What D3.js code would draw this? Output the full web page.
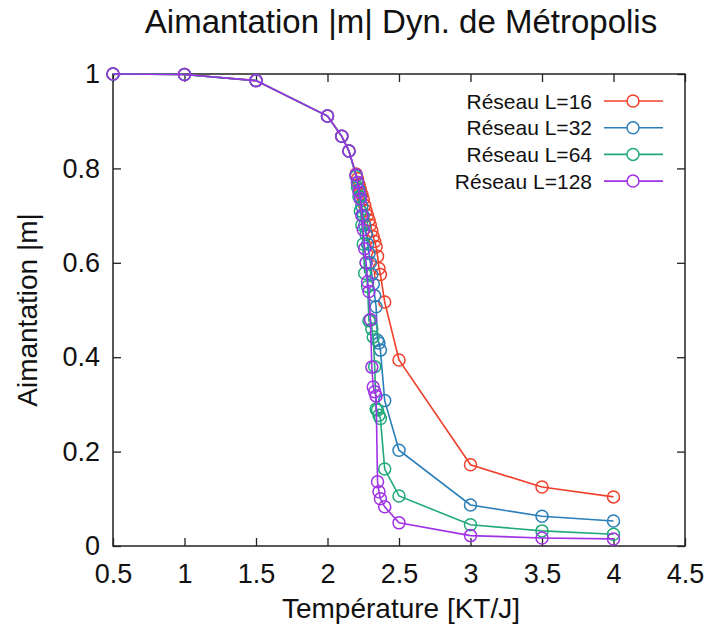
<!DOCTYPE html>
<html>
<head>
<meta charset="utf-8">
<script src="https://cdn.jsdelivr.net/npm/d3@7"></script>
<style>
  body { margin: 0; background: #fff; }
  text { font-family: "Liberation Sans", Arial, sans-serif; fill: #111; }
</style>
</head>
<body>
<div id="chart"></div>
<script>
// températures communes
const temps = [0.5, 1, 1.5, 2, 2.1, 2.15, 2.2, 2.21, 2.22, 2.23, 2.24, 2.25, 2.26, 2.27, 2.28,
  2.29, 2.3, 2.31, 2.32, 2.33, 2.34, 2.35, 2.36, 2.37, 2.4, 2.5, 3, 3.5, 4];

const mL16 = [1, 0.999, 0.986, 0.911, 0.868, 0.837, 0.788, 0.778, 0.766, 0.755, 0.745, 0.735, 0.722, 0.71, 0.70,
  0.69, 0.68, 0.668, 0.655, 0.645, 0.634, 0.614, 0.588, 0.575, 0.517, 0.394, 0.172, 0.125, 0.104];
const mL32 = [1, 0.999, 0.986, 0.911, 0.868, 0.837, 0.786, 0.77, 0.755, 0.74, 0.72, 0.70, 0.68, 0.66, 0.64,
  0.62, 0.60, 0.575, 0.555, 0.53, 0.507, 0.436, 0.43, 0.415, 0.308, 0.203, 0.087, 0.063, 0.053];
const mL64 = [1, 0.999, 0.986, 0.911, 0.868, 0.837, 0.783, 0.76, 0.74, 0.71, 0.68, 0.64, 0.578, 0.60, 0.55,
  0.477, 0.479, 0.46, 0.443, 0.38, 0.29, 0.288, 0.277, 0.27, 0.163, 0.106, 0.045, 0.032, 0.025];
const mL128 = [1, 0.999, 0.986, 0.911, 0.868, 0.837, 0.786, 0.77, 0.75, 0.735, 0.70, 0.67, 0.63, 0.60, 0.56,
  0.539, 0.48, 0.379, 0.337, 0.327, 0.318, 0.136, 0.115, 0.10, 0.083, 0.049, 0.022, 0.017, 0.015];

const seriesNames = ["Réseau L=16", "Réseau L=32", "Réseau L=64", "Réseau L=128"];
const seriesValues = [mL16, mL32, mL64, mL128];
const colors = ["#f0402c", "#2a7fb8", "#22a97b", "#a032e6"];

const xTicks = [0.5, 1, 1.5, 2, 2.5, 3, 3.5, 4, 4.5];
const yTicks = [0, 0.2, 0.4, 0.6, 0.8, 1];

const width = 713, height = 633;
const plotLeft = 113, plotRight = 685, plotTop = 74, plotBottom = 546;

const svg = d3.select("#chart").append("svg")
  .attr("width", width)
  .attr("height", height);

const x = d3.scaleLinear().domain([0.5, 4.5]).range([plotLeft, plotRight]);
const y = d3.scaleLinear().domain([0, 1]).range([plotBottom, plotTop]);

// titre
svg.append("text")
  .attr("x", 401).attr("y", 33)
  .attr("text-anchor", "middle")
  .style("font-size", "33px")
  .text("Aimantation |m| Dyn. de Métropolis");

// graduations (vers l'intérieur, en miroir)
const tickLen = 8;
const axisColor = "#222";

svg.append("g").attr("transform", `translate(0,${plotBottom})`)
  .call(d3.axisBottom(x).tickValues(xTicks).tickSize(-tickLen).tickPadding(18).tickFormat(d => d))
  .call(g => g.select(".domain").remove())
  .call(g => g.selectAll("line").attr("stroke", axisColor).attr("stroke-width", 1.3))
  .call(g => g.selectAll("text").style("font-size", "27px").attr("fill", "#111"));

svg.append("g").attr("transform", `translate(0,${plotTop})`)
  .call(d3.axisTop(x).tickValues(xTicks).tickSize(-tickLen).tickFormat(""))
  .call(g => g.select(".domain").remove())
  .call(g => g.selectAll("line").attr("stroke", axisColor).attr("stroke-width", 1.3));

svg.append("g").attr("transform", `translate(${plotLeft},0)`)
  .call(d3.axisLeft(y).tickValues(yTicks).tickSize(-tickLen).tickPadding(13).tickFormat(d => d))
  .call(g => g.select(".domain").remove())
  .call(g => g.selectAll("line").attr("stroke", axisColor).attr("stroke-width", 1.3))
  .call(g => g.selectAll("text").style("font-size", "27px").attr("fill", "#111"));

svg.append("g").attr("transform", `translate(${plotRight},0)`)
  .call(d3.axisRight(y).tickValues(yTicks).tickSize(-tickLen).tickFormat(""))
  .call(g => g.select(".domain").remove())
  .call(g => g.selectAll("line").attr("stroke", axisColor).attr("stroke-width", 1.3));

// cadre
svg.append("rect")
  .attr("x", plotLeft).attr("y", plotTop)
  .attr("width", plotRight - plotLeft).attr("height", plotBottom - plotTop)
  .attr("fill", "none")
  .attr("stroke", axisColor)
  .attr("stroke-width", 1.5);

// titres des axes
svg.append("text")
  .attr("x", 401).attr("y", 618)
  .attr("text-anchor", "middle")
  .style("font-size", "28px")
  .text("Température [KT/J]");

svg.append("text")
  .attr("transform", "translate(37,310) rotate(-90)")
  .attr("text-anchor", "middle")
  .style("font-size", "28px")
  .text("Aimantation |m|");

// courbes
const line = d3.line()
  .x((d, i) => x(temps[i]))
  .y(d => y(d));

seriesValues.forEach((vals, k) => {
  const g = svg.append("g");
  g.append("path")
    .datum(vals)
    .attr("d", line)
    .attr("fill", "none")
    .attr("stroke", colors[k])
    .attr("stroke-width", 1.6);
  g.selectAll("circle")
    .data(vals)
    .enter()
    .append("circle")
    .attr("cx", (d, i) => x(temps[i]))
    .attr("cy", d => y(d))
    .attr("r", 6)
    .attr("fill", "none")
    .attr("stroke", colors[k])
    .attr("stroke-width", 1.5);
});

// légende
const legend = svg.append("g");
seriesNames.forEach((name, i) => {
  const ly = 101 + i * 26.7;
  legend.append("text")
    .attr("x", 592).attr("y", ly + 7.5)
    .attr("text-anchor", "end")
    .style("font-size", "21px")
    .text(name);
  legend.append("line")
    .attr("x1", 604).attr("x2", 663)
    .attr("y1", ly).attr("y2", ly)
    .attr("stroke", colors[i])
    .attr("stroke-width", 1.6);
  legend.append("circle")
    .attr("cx", 633).attr("cy", ly)
    .attr("r", 6)
    .attr("fill", "#fff")
    .attr("stroke", colors[i])
    .attr("stroke-width", 1.5);
});
</script>
</body>
</html>
